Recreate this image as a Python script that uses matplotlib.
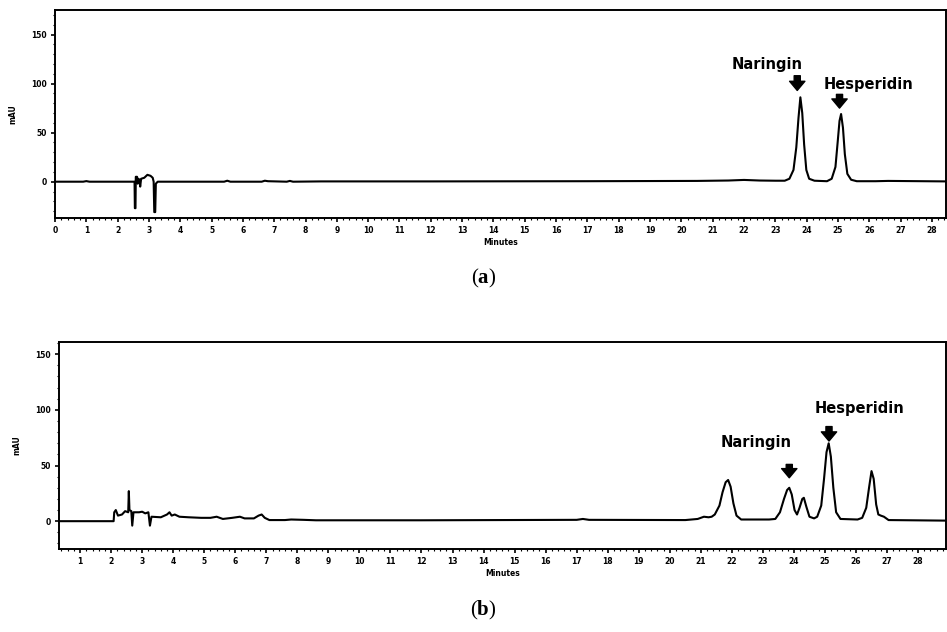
import matplotlib
matplotlib.use('Agg')
import matplotlib.pyplot as plt
from matplotlib.ticker import MultipleLocator

# ---- data ----
# (a) standard mixture
a_time = [0.0, 0.9, 1.0, 1.1, 2.54, 2.55, 2.57, 2.58, 2.62, 2.64, 2.66, 2.70, 2.72, 2.75,
          2.85, 2.95, 3.05, 3.12, 3.15, 3.17, 3.20, 3.22, 3.28, 5.4, 5.5, 5.6, 6.6, 6.7,
          6.8, 7.4, 7.5, 7.6, 8.5, 12.0, 17.0, 20.5, 21.5, 22.0, 22.5, 23.0,
          23.30, 23.45, 23.58, 23.67, 23.74, 23.80, 23.86, 23.92, 23.99, 24.08, 24.25,
          24.65, 24.80, 24.92, 24.99, 25.05, 25.10, 25.16, 25.22, 25.30, 25.42, 25.60,
          26.2, 26.6, 28.45]
a_signal = [0.0, 0.0, 0.6, 0.0, 0.0, -27, -27, 5, 5, -2, 3, 2, -5, 3,
            4, 7, 6, 4, 0, -31, -31, -2, 0, 0, 1, 0, 0, 1,
            0.5, 0, 0.8, 0, 0.3, 0.3, 0.5, 0.8, 1.2, 1.8, 1.2, 1.0,
            1.0, 3, 12, 35, 65, 86, 70, 38, 12, 3, 1.0,
            0.5, 3, 15, 40, 62, 69, 55, 28, 8, 2, 0.5,
            0.5, 0.8, 0.3]

# (b) sample
b_time = [0.32, 2.08, 2.10, 2.15, 2.22, 2.35, 2.45, 2.55, 2.57, 2.59, 2.65, 2.68, 2.72,
          2.9, 3.0, 3.1, 3.2, 3.25, 3.3, 3.6, 3.8, 3.88, 3.95, 4.05, 4.2, 4.5, 4.9, 5.2,
          5.4, 5.6, 5.9, 6.15, 6.3, 6.6, 6.75, 6.85, 6.95, 7.1, 7.6, 7.8, 8.2, 8.6, 12.0,
          17.0, 17.2, 17.4, 20.5, 20.9, 21.1, 21.25, 21.35, 21.45, 21.6, 21.7, 21.8, 21.88,
          21.96, 22.05, 22.15, 22.3, 23.2, 23.4, 23.55, 23.68, 23.78, 23.85, 23.93, 24.02,
          24.1, 24.18, 24.27, 24.32, 24.4, 24.5, 24.65, 24.75, 24.88, 24.97, 25.05, 25.12,
          25.19, 25.27, 25.36, 25.5, 26.05, 26.2, 26.33, 26.42, 26.5, 26.57, 26.65, 26.72,
          26.8, 26.9, 27.05, 28.9]
b_signal = [0.0, 0.0, 8, 10, 5, 6, 9, 8, 27, 10, 9, -4, 8,
            8, 8.5, 7, 8, -4, 4, 3.5, 6, 8, 5, 6, 4, 3.5, 3, 3,
            4, 2, 3, 4, 2.5, 2.5, 5, 6, 3, 1, 1, 1.5, 1.2, 0.8, 0.8,
            1.2, 2, 1.2, 1, 2, 4, 3.5, 4, 6, 14, 26, 35, 37,
            31, 16, 5, 1.5, 1.5, 2, 8, 20, 28, 30, 24, 10,
            6, 12, 20, 21, 13, 4, 2.5, 4, 14, 38, 62, 70,
            58, 30, 8, 2, 1.5, 3, 12, 30, 45, 38, 15, 6,
            5, 4, 1, 0.5]

# labels: (text, text_x, text_y, arrow_x, arrow_tail, arrow_tip)
a_labels = [('Naringin', 22.75, 119, 23.7, 108, 93),
            ('Hesperidin', 25.97, 99, 25.05, 89, 75)]
b_labels = [('Naringin', 22.77, 71, 23.85, 51, 39),
            ('Hesperidin', 26.1, 101, 25.13, 85, 72)]

W, H = 947, 632
fig = plt.figure(figsize=(W / 100, H / 100), dpi=100)

tick_font = dict(fontsize=5.5, fontweight='bold')

plt.rcParams['mathtext.fontset'] = 'custom'
plt.rcParams['mathtext.rm'] = 'Liberation Serif'
plt.rcParams['mathtext.bf'] = 'Liberation Serif:bold'


def panel(rect_px, time, signal, xlim, ylim, xticks, labels, caption, cap_y):
    l, t, r, b = rect_px
    ax = fig.add_axes([l / W, 1 - b / H, (r - l) / W, (b - t) / H])
    ax.plot(time, signal, color='black', lw=1.5, solid_joinstyle='round')
    ax.set_xlim(*xlim)
    ax.set_ylim(*ylim)
    ax.set_xticks(xticks)
    ax.set_xticklabels([str(v) for v in xticks], **tick_font)
    ax.set_yticks([0, 50, 100, 150])
    ax.set_yticklabels(['0', '50', '100', '150'], **tick_font)
    ax.xaxis.set_minor_locator(MultipleLocator(0.2))
    ax.yaxis.set_minor_locator(MultipleLocator(10))
    ax.tick_params(which='major', length=3, width=1.2, pad=3)
    ax.tick_params(which='minor', length=1.5, width=0.8)
    for s in ax.spines.values():
        s.set_linewidth(1.4)
    ax.set_xlabel('Minutes', fontsize=5.5, fontweight='bold', labelpad=2)
    ax.set_ylabel('mAU', fontsize=5.5, fontweight='bold', labelpad=10)
    for name, tx, ty, axx, tail, tip in labels:
        ax.text(tx, ty, name, ha='center', va='center', fontsize=10.5,
                fontweight='bold', family='DejaVu Sans')
        ax.annotate('', xy=(axx, tip), xytext=(axx, tail),
                    arrowprops=dict(arrowstyle='simple,head_width=1.0,head_length=0.6,tail_width=0.4',
                                    color='black', mutation_scale=11, shrinkA=0, shrinkB=0))
    fig.text(0.5 + 10 / W, 1 - cap_y / H, caption, ha='center', va='center',
             fontsize=15, family='Liberation Serif')
    return ax


panel((55, 10, 946, 218), a_time, a_signal, (0, 28.45), (-37, 175),
      list(range(0, 29)), a_labels, r'($\mathbf{a}$)', 278)
panel((59, 342, 946, 549), b_time, b_signal, (0.32, 28.9), (-25, 161),
      list(range(1, 29)), b_labels, r'($\mathbf{b}$)', 610)

fig.savefig('out.png', dpi=100)
plt.close(fig)
